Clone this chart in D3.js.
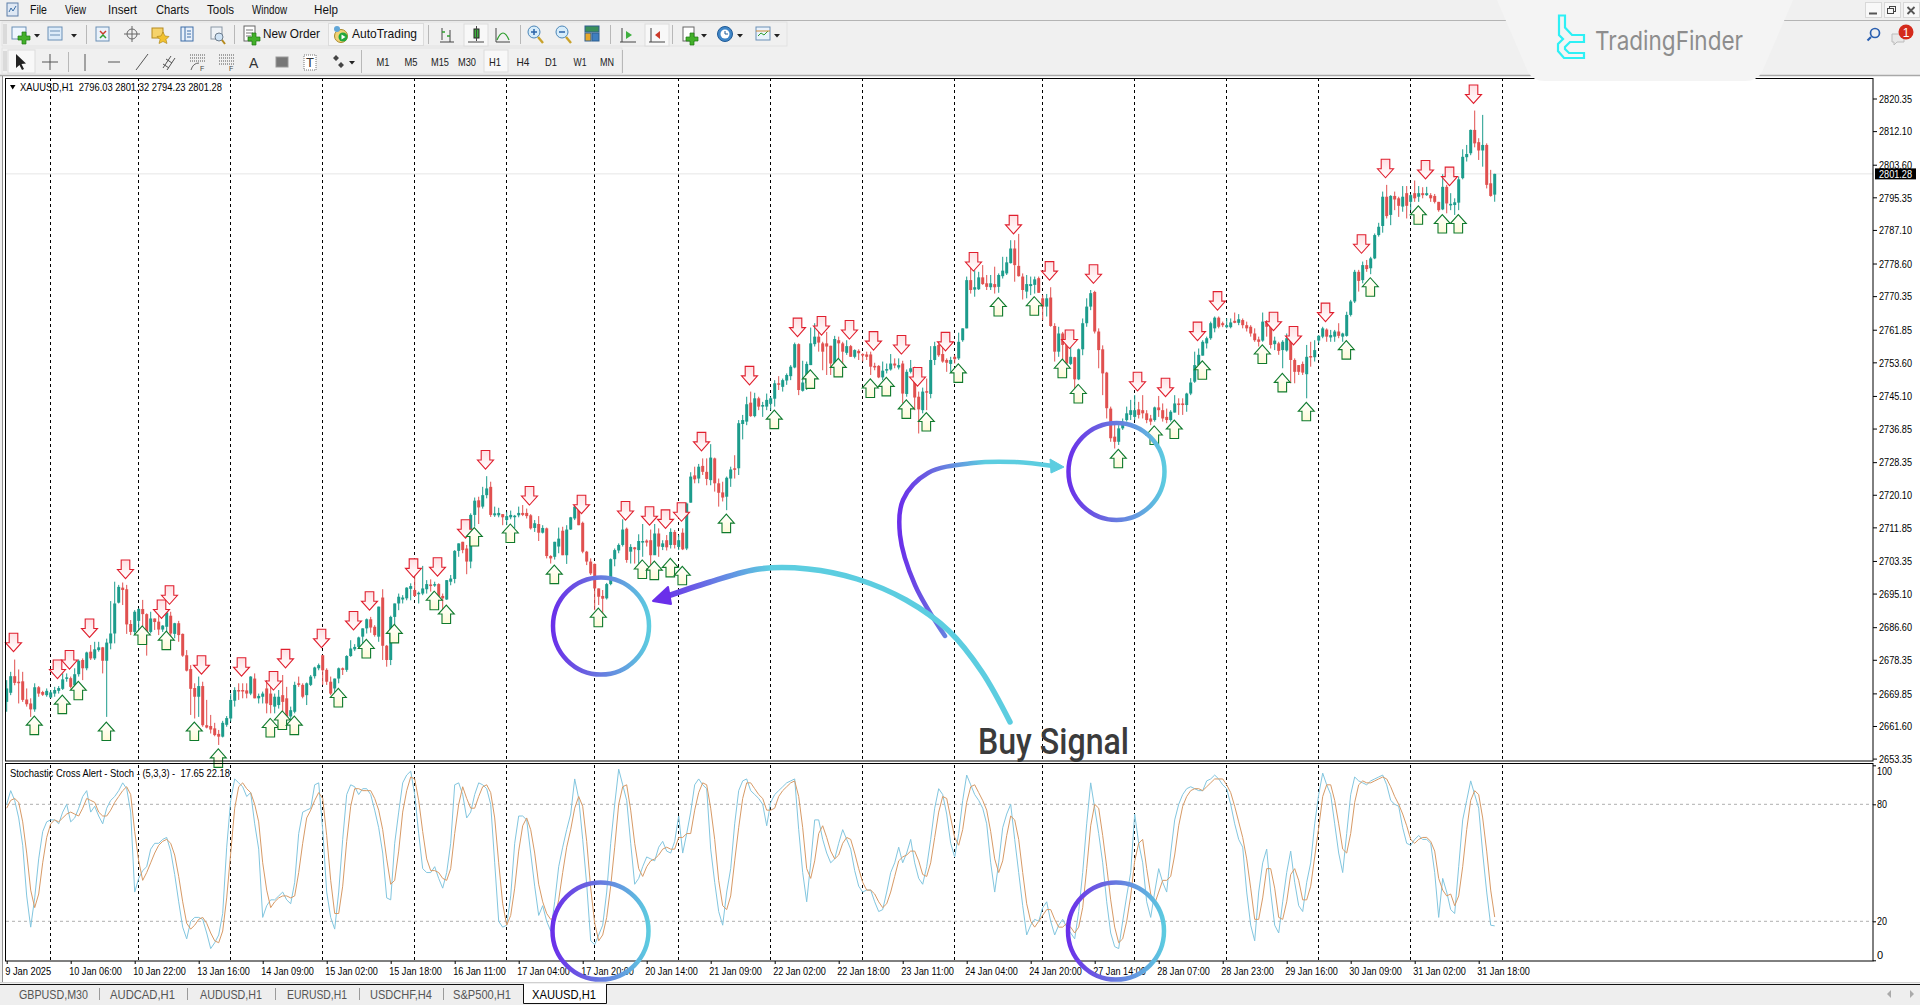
<!DOCTYPE html>
<html>
<head>
<meta charset="utf-8">
<title>XAUUSD,H1</title>
<script src="https://cdn.jsdelivr.net/npm/d3@7"></script>
<style>
html, body { margin: 0; padding: 0; background: #f0f0f0; overflow: hidden; }
svg { display: block; }
text { font-family: "Liberation Sans", sans-serif; }
</style>
</head>
<body>
<svg id="chart" width="1920" height="1005"></svg>
<script>
// candles
var opens = [
2667.7,2670.0,2674.2,2672.8,2672.9,2668.3,2667.3,2665.8,2671.4,2670.2,
2669.4,2668.8,2669.8,2670.5,2671.0,2673.6,2673.7,2671.9,2674.7,2678.3,
2676.2,2680.4,2678.7,2680.8,2681.5,2678.1,2682.5,2685.0,2692.8,2696.6,
2696.2,2687.4,2685.4,2688.2,2691.2,2689.9,2685.4,2688.8,2688.0,2686.0,
2686.7,2689.5,2684.9,2687.6,2684.9,2679.5,2676.0,2671.2,2669.0,2671.7,
2661.8,2661.6,2661.0,2659.6,2658.9,2661.9,2663.5,2668.0,2670.7,2670.7,
2670.6,2669.8,2673.6,2668.6,2669.0,2671.1,2669.8,2666.5,2666.9,2669.4,
2668.6,2664.0,2665.2,2672.4,2672.0,2669.4,2672.0,2674.2,2676.2,2679.5,
2675.8,2672.8,2671.1,2673.6,2676.2,2675.8,2679.3,2681.0,2681.6,2684.2,
2686.3,2688.6,2686.7,2684.2,2694.1,2681.9,2678.3,2689.2,2692.6,2693.6,
2693.9,2696.3,2696.0,2695.0,2695.1,2696.2,2697.4,2697.2,2697.5,2694.5,
2693.6,2698.1,2698.8,2705.9,2708.2,2706.5,2703.2,2715.0,2718.7,2717.1,
2720.0,2722.1,2714.9,2714.9,2715.2,2713.7,2714.4,2714.5,2714.9,2715.5,
2715.5,2714.9,2711.7,2712.7,2710.5,2711.6,2704.6,2704.4,2707.0,2711.0,
2704.8,2711.3,2714.1,2716.6,2713.0,2705.7,2703.2,2702.6,2696.4,2694.5,
2693.9,2697.5,2703.8,2706.0,2707.4,2711.5,2705.7,2706.8,2706.1,2708.0,
2708.5,2708.6,2704.8,2710.3,2706.9,2708.6,2707.4,2710.7,2706.9,2710.5,
2706.5,2718.1,2725.0,2724.2,2727.4,2725.9,2723.8,2729.3,2723.0,2720.7,
2719.6,2724.2,2726.8,2726.8,2738.0,2738.6,2743.4,2740.0,2744.5,2742.4,
2742.4,2743.1,2744.4,2748.3,2747.4,2749.0,2750.1,2752.3,2758.2,2746.4,
2748.3,2752.9,2758.2,2760.1,2758.4,2758.4,2757.8,2753.3,2759.2,2758.4,
2756.0,2757.7,2755.0,2756.5,2755.7,2755.6,2755.6,2752.7,2752.7,2749.8,
2751.5,2751.8,2753.3,2752.3,2753.3,2745.6,2751.2,2752.3,2744.9,2741.5,
2746.3,2745.6,2754.2,2758.0,2755.7,2754.2,2753.2,2755.0,2754.6,2759.2,
2762.2,2774.4,2772.0,2772.1,2775.1,2773.6,2772.6,2773.4,2772.7,2775.4,
2776.1,2778.7,2782.4,2778.0,2775.3,2771.5,2772.9,2773.2,2774.9,2769.8,
2767.7,2770.0,2762.8,2756.3,2760.9,2758.4,2753.2,2754.9,2749.3,2756.9,
2763.5,2767.7,2771.4,2761.4,2756.9,2751.0,2741.9,2734.8,2733.5,2736.9,
2739.0,2740.3,2739.8,2741.7,2741.5,2740.7,2739.4,2739.0,2742.2,2741.5,
2739.8,2739.0,2740.9,2743.2,2743.2,2742.8,2745.7,2748.7,2752.9,2755.3,
2758.4,2759.7,2762.2,2764.9,2763.5,2762.5,2762.5,2764.1,2763.6,2764.3,
2763.0,2762.6,2760.9,2759.4,2759.1,2763.9,2763.0,2758.2,2758.4,2756.7,
2756.6,2759.7,2754.2,2752.9,2753.2,2750.6,2755.2,2754.9,2759.1,2760.1,
2761.9,2759.9,2760.1,2761.4,2760.1,2760.3,2765.6,2769.0,2776.5,2774.4,
2778.2,2777.4,2779.9,2785.8,2788.1,2795.5,2790.9,2795.7,2795.1,2793.0,
2796.4,2794.2,2796.4,2795.5,2796.4,2795.9,2795.9,2795.7,2794.2,2792.3,
2798.0,2793.3,2793.4,2794.0,2800.2,2805.5,2806.5,2812.4,2809.3,2807.2,
2808.6,2798.9,2796.03
];
var highs = [
2673.2,2675.3,2678.4,2675.9,2675.3,2671.1,2668.6,2672.4,2671.7,2670.5,
2671.1,2670.7,2671.5,2671.7,2674.9,2674.9,2674.1,2676.2,2678.4,2678.7,
2680.4,2682.1,2682.9,2682.9,2681.6,2683.7,2693.2,2698.1,2697.3,2697.9,
2697.3,2688.4,2690.9,2691.4,2693.5,2690.1,2690.5,2688.8,2690.9,2687.1,
2690.9,2690.5,2687.7,2688.2,2685.0,2680.8,2677.0,2672.4,2674.1,2672.8,
2668.2,2664.4,2662.4,2660.6,2662.9,2664.1,2669.8,2671.4,2672.4,2672.4,
2672.4,2674.2,2674.9,2669.8,2670.3,2673.2,2671.5,2669.8,2670.7,2674.5,
2671.5,2666.5,2672.8,2674.1,2672.4,2672.6,2674.5,2676.6,2677.4,2679.5,
2676.2,2674.1,2673.6,2676.4,2676.4,2679.5,2683.3,2682.3,2684.2,2686.3,
2688.8,2689.2,2687.1,2691.8,2696.2,2682.1,2689.5,2692.6,2695.1,2694.7,
2696.7,2697.7,2699.8,2695.6,2702.1,2698.5,2698.7,2698.1,2697.7,2695.1,
2698.5,2699.8,2706.1,2707.8,2708.2,2707.4,2715.4,2719.4,2719.6,2722.1,
2724.8,2723.4,2717.1,2716.8,2715.2,2715.8,2716.1,2715.0,2717.1,2717.5,
2716.6,2715.2,2713.7,2714.7,2712.4,2711.8,2704.8,2708.2,2711.8,2712.0,
2712.4,2714.5,2717.5,2717.1,2713.3,2705.9,2704.0,2702.7,2696.4,2696.0,
2697.8,2704.0,2706.5,2707.8,2713.9,2711.8,2707.6,2706.9,2710.1,2712.7,
2708.8,2711.3,2712.7,2711.6,2708.6,2709.9,2711.6,2711.2,2709.9,2711.6,
2718.1,2725.8,2727.2,2727.9,2729.3,2729.3,2732.9,2729.5,2724.2,2723.4,
2724.7,2727.2,2730.1,2739.0,2740.3,2744.9,2746.2,2745.9,2744.9,2743.6,
2745.7,2744.9,2749.1,2750.1,2749.5,2750.8,2752.9,2758.6,2758.4,2754.0,
2753.8,2762.4,2763.5,2762.6,2758.8,2761.3,2757.8,2760.3,2760.1,2758.8,
2759.2,2758.0,2756.9,2756.9,2755.9,2756.3,2756.3,2753.5,2752.9,2753.8,
2753.3,2755.7,2754.6,2754.6,2754.0,2751.8,2754.2,2752.5,2746.2,2747.2,
2749.5,2757.7,2758.8,2758.4,2758.4,2754.6,2755.0,2755.4,2761.1,2762.2,
2775.3,2777.6,2776.9,2776.5,2778.2,2775.7,2775.7,2777.8,2776.1,2780.3,
2780.3,2784.5,2784.5,2786.1,2776.1,2775.7,2775.3,2775.3,2775.3,2770.6,
2770.9,2772.6,2763.5,2762.6,2761.3,2761.8,2757.6,2755.0,2757.1,2764.7,
2769.8,2771.9,2771.7,2762.2,2757.9,2751.2,2742.4,2738.2,2737.7,2739.4,
2742.4,2744.1,2745.3,2743.6,2745.3,2741.5,2740.3,2742.4,2745.1,2743.2,
2741.9,2741.5,2745.3,2744.5,2744.5,2745.9,2749.6,2756.3,2757.1,2759.2,
2760.1,2763.9,2765.2,2765.2,2763.9,2764.7,2764.7,2766.2,2765.8,2764.7,
2763.9,2763.0,2762.2,2760.1,2766.2,2764.3,2764.3,2760.1,2758.8,2759.2,
2760.9,2760.1,2754.6,2752.9,2753.8,2758.0,2758.8,2759.2,2760.5,2762.6,
2762.2,2761.8,2761.8,2763.5,2761.1,2766.4,2769.4,2777.0,2777.0,2779.1,
2779.5,2780.3,2786.2,2788.9,2796.8,2798.5,2795.9,2796.8,2795.5,2798.2,
2798.2,2796.2,2799.6,2798.2,2797.9,2798.0,2796.4,2796.2,2794.2,2801.2,
2798.5,2796.4,2795.1,2800.6,2807.5,2808.6,2812.5,2817.3,2810.3,2816.2,
2809.0,2802.3,2801.32
];
var lows = [
2665.2,2669.4,2671.9,2667.3,2667.7,2666.5,2663.9,2665.2,2669.0,2669.2,
2669.0,2668.6,2669.0,2669.8,2670.7,2672.8,2671.1,2671.4,2674.1,2673.2,
2675.7,2678.3,2678.3,2680.4,2674.9,2663.9,2681.0,2682.5,2692.6,2692.2,
2684.9,2684.6,2684.6,2685.0,2686.7,2679.4,2685.0,2685.9,2684.6,2685.4,
2684.6,2684.2,2683.8,2682.9,2679.1,2675.4,2664.4,2663.5,2663.9,2661.4,
2661.0,2659.7,2659.0,2656.8,2658.7,2661.4,2662.7,2666.5,2668.2,2668.6,
2668.6,2669.4,2668.6,2667.3,2667.3,2664.8,2664.8,2664.8,2666.0,2662.3,
2663.1,2663.1,2664.8,2671.5,2668.6,2666.9,2671.7,2673.6,2675.7,2672.0,
2672.0,2669.4,2669.8,2672.4,2674.5,2675.3,2679.1,2680.6,2681.2,2682.5,
2685.0,2685.2,2684.2,2682.9,2678.3,2676.6,2677.0,2687.1,2690.9,2692.6,
2693.4,2693.4,2694.3,2692.6,2694.7,2695.1,2695.6,2696.8,2693.5,2690.9,
2693.5,2697.2,2697.7,2704.4,2705.3,2700.0,2701.5,2712.0,2712.7,2716.6,
2719.2,2714.5,2714.5,2714.4,2712.4,2712.4,2713.9,2711.6,2714.4,2714.7,
2714.1,2711.3,2710.7,2708.4,2710.3,2704.0,2702.7,2703.7,2705.3,2704.8,
2702.6,2711.2,2713.7,2712.4,2705.3,2702.3,2699.8,2690.9,2692.2,2689.7,
2693.6,2697.2,2702.0,2705.3,2707.0,2702.9,2702.7,2702.7,2702.7,2704.4,
2707.0,2702.3,2705.3,2704.4,2706.1,2706.0,2706.5,2706.5,2706.1,2706.1,
2706.1,2718.1,2723.0,2723.0,2725.1,2722.5,2722.5,2720.9,2717.1,2718.4,
2716.2,2722.1,2724.2,2725.1,2734.1,2737.7,2739.8,2739.7,2741.5,2739.8,
2741.5,2741.5,2742.4,2746.6,2746.2,2747.9,2749.1,2752.1,2745.3,2746.2,
2746.6,2752.9,2757.6,2756.3,2751.6,2750.4,2750.4,2752.9,2754.6,2752.9,
2755.5,2755.0,2754.6,2754.2,2753.8,2754.2,2750.4,2751.6,2749.6,2749.1,
2750.8,2751.5,2752.1,2751.8,2743.2,2744.9,2750.8,2741.5,2735.6,2740.7,
2741.5,2744.5,2752.9,2755.0,2753.5,2751.2,2751.2,2753.3,2754.2,2758.8,
2762.2,2771.0,2770.2,2771.9,2773.2,2771.9,2771.9,2771.0,2771.2,2774.8,
2775.7,2778.6,2774.0,2775.3,2769.5,2769.8,2770.6,2771.0,2771.2,2764.3,
2765.2,2762.6,2753.8,2755.0,2753.3,2752.5,2752.9,2746.6,2749.1,2755.4,
2762.6,2766.8,2760.9,2752.1,2745.3,2739.4,2733.5,2731.8,2732.7,2736.5,
2738.6,2739.0,2739.0,2739.4,2739.4,2738.2,2737.7,2738.6,2739.8,2738.6,
2738.2,2738.6,2740.9,2740.3,2740.3,2741.1,2745.3,2748.4,2752.9,2755.3,
2757.1,2759.3,2761.2,2762.2,2762.5,2762.2,2762.2,2763.5,2763.0,2762.2,
2761.4,2760.1,2758.8,2757.6,2758.8,2760.1,2757.1,2756.7,2755.5,2752.1,
2756.3,2748.3,2748.3,2750.4,2750.4,2744.5,2752.5,2753.8,2758.4,2759.7,
2758.8,2758.8,2758.8,2759.7,2758.8,2760.1,2765.2,2768.6,2771.5,2773.6,
2776.5,2775.9,2779.7,2785.4,2786.4,2790.0,2788.3,2792.1,2790.4,2791.7,
2790.0,2792.1,2794.2,2794.2,2795.1,2795.7,2794.2,2793.8,2791.7,2792.1,
2791.3,2792.1,2790.9,2792.1,2799.9,2804.4,2806.0,2808.0,2804.8,2803.1,
2797.6,2795.5,2794.23
];
var closes = [
2671.1,2674.2,2672.5,2672.6,2668.2,2667.1,2665.8,2671.4,2669.8,2669.5,
2670.5,2670.1,2670.7,2671.2,2673.4,2673.9,2671.5,2674.7,2678.1,2676.2,
2680.2,2678.7,2681.0,2681.5,2678.1,2682.7,2685.0,2692.6,2696.8,2696.0,
2687.3,2685.4,2690.5,2691.2,2689.9,2685.4,2688.8,2687.9,2686.0,2687.0,
2690.3,2685.0,2687.6,2684.6,2679.4,2675.6,2671.0,2669.0,2671.7,2661.8,
2661.2,2660.7,2659.3,2658.9,2662.4,2663.6,2668.2,2670.7,2670.5,2670.5,
2669.8,2674.1,2668.6,2669.2,2669.8,2667.3,2666.9,2669.0,2669.0,2667.7,
2664.0,2665.6,2672.0,2672.0,2669.0,2672.4,2674.1,2676.4,2677.0,2675.7,
2672.8,2669.8,2673.6,2676.2,2675.8,2679.3,2681.2,2681.6,2684.0,2686.3,
2688.6,2686.5,2684.6,2691.8,2681.9,2678.3,2689.2,2692.6,2694.3,2694.1,
2696.6,2697.0,2694.5,2695.3,2696.4,2697.5,2697.0,2697.5,2694.3,2693.9,
2698.5,2698.9,2705.9,2707.8,2706.1,2703.2,2715.0,2718.6,2716.9,2720.0,
2721.7,2715.0,2715.4,2715.5,2714.4,2714.7,2715.0,2714.8,2715.5,2715.0,
2714.7,2711.6,2712.9,2710.5,2711.7,2704.6,2704.0,2708.2,2709.0,2704.8,
2711.3,2714.4,2717.1,2712.4,2705.7,2703.2,2700.2,2696.4,2694.3,2693.8,
2697.5,2703.8,2706.1,2707.4,2711.3,2703.6,2706.9,2706.3,2708.4,2708.4,
2708.0,2704.8,2710.3,2707.0,2707.8,2706.8,2710.7,2707.4,2708.6,2706.3,
2717.9,2724.7,2724.0,2727.2,2725.9,2724.1,2729.5,2723.0,2720.6,2719.4,
2724.4,2726.5,2726.4,2738.2,2739.0,2743.0,2740.0,2744.5,2742.4,2742.8,
2744.1,2744.5,2748.3,2748.0,2749.1,2750.4,2752.5,2758.2,2746.6,2748.5,
2753.2,2758.4,2760.1,2758.6,2756.3,2757.6,2753.3,2759.5,2758.4,2756.3,
2757.7,2755.0,2756.7,2755.9,2755.4,2755.0,2752.5,2752.3,2749.8,2751.5,
2751.9,2753.3,2752.8,2752.9,2745.7,2751.2,2752.1,2744.7,2741.7,2746.2,
2746.1,2754.2,2757.7,2755.4,2753.8,2753.5,2754.2,2754.4,2758.8,2762.2,
2774.4,2771.9,2772.6,2775.1,2773.4,2772.7,2773.6,2772.6,2775.7,2776.8,
2778.9,2782.4,2778.2,2775.4,2771.9,2773.4,2773.4,2774.6,2771.2,2767.7,
2769.8,2762.8,2756.3,2760.9,2758.0,2753.3,2755.0,2749.3,2756.9,2763.5,
2767.7,2771.1,2761.4,2756.7,2750.8,2742.0,2734.4,2733.5,2736.9,2738.6,
2740.7,2741.5,2741.5,2740.3,2740.7,2739.0,2738.6,2742.2,2741.5,2739.4,
2739.0,2741.1,2743.2,2742.8,2742.8,2745.7,2748.5,2752.9,2755.5,2758.8,
2759.7,2763.5,2764.9,2762.6,2763.0,2763.0,2763.7,2763.6,2764.5,2763.0,
2762.2,2760.9,2759.2,2758.8,2763.9,2762.6,2758.0,2759.1,2756.5,2758.8,
2759.7,2754.2,2751.2,2751.2,2751.0,2755.0,2754.9,2756.7,2760.3,2762.2,
2760.1,2760.5,2761.4,2760.3,2760.9,2765.6,2769.0,2776.5,2774.2,2778.2,
2777.2,2779.9,2785.8,2787.9,2795.5,2790.6,2795.7,2794.8,2793.2,2795.5,
2793.2,2795.9,2795.1,2796.4,2795.9,2796.4,2795.1,2794.2,2792.1,2798.0,
2793.8,2793.7,2794.1,2799.9,2805.6,2806.3,2812.4,2809.0,2807.2,2808.6,
2798.5,2795.7,2801.28
];

// stochastic %K and %D
var stochMain = [
80,87,82,73,59,33,17,32,52,66,71,72,72,70,76,80,71,73,78,84,
87,76,79,74,70,78,82,84,87,91,88,76,35,42,46,48,57,60,60,62,
63,56,44,30,17,11,20,22,22,21,14,6,9,13,24,58,82,93,91,89,
84,86,70,57,22,28,31,31,33,35,31,29,40,65,76,77,78,90,91,67,
35,22,16,35,62,85,90,89,85,88,88,85,77,68,55,32,31,60,76,91,
95,97,85,65,47,45,45,48,42,37,45,60,90,91,85,73,76,85,91,90,
88,80,50,20,17,18,33,60,74,74,72,55,38,23,28,20,15,30,48,58,
67,75,93,83,62,39,10,8,13,18,35,60,80,98,90,82,60,39,42,48,
53,52,51,58,61,56,55,61,74,55,65,76,90,93,90,88,57,40,25,18,
35,47,70,87,92,93,87,85,83,80,69,81,85,87,89,91,92,93,67,45,
30,50,72,72,62,55,50,52,60,67,62,57,46,38,35,36,36,30,25,26,
35,45,50,58,50,55,62,50,42,39,48,62,78,88,85,75,60,53,65,82,
95,90,85,82,78,70,50,35,50,68,75,80,62,45,28,13,18,21,20,27,
30,20,13,18,21,17,14,11,25,45,70,91,78,65,50,30,14,7,6,20,
33,45,75,60,50,30,22,35,47,40,35,55,72,80,85,88,89,88,87,87,
92,93,95,93,90,88,80,70,62,58,35,18,10,35,50,57,35,18,14,30,
45,56,40,28,25,40,50,70,85,96,90,85,70,55,45,65,85,94,92,91,
90,92,93,94,95,90,82,80,79,68,60,59,62,64,62,62,60,45,22,42,
35,26,24,48,72,82,92,85,78,55,35,18,17.65
];
var stochSignal = [
78,82,83,81,71,55,36,27,34,50,63,70,72,71,73,75,76,75,74,78,
83,82,81,76,74,74,77,81,84,87,89,85,66,51,41,45,50,55,59,61,
62,60,54,43,30,19,16,18,21,22,19,14,10,9,15,32,55,78,89,91,
88,86,80,71,50,36,27,30,32,33,33,32,33,45,60,73,77,82,86,83,
64,41,24,24,38,61,79,88,88,87,87,87,83,77,67,52,39,41,56,76,
87,94,93,82,66,52,46,46,45,42,41,47,65,80,89,83,78,78,84,89,
90,86,73,50,29,18,23,37,56,69,73,67,55,39,30,24,21,22,31,45,
58,67,78,84,79,61,37,19,10,13,22,38,58,80,89,90,77,60,47,43,
48,51,52,54,57,58,57,57,63,63,65,65,77,86,91,90,78,62,41,28,
26,33,51,68,83,91,91,88,85,83,77,77,78,84,87,89,91,92,84,68,
47,42,51,65,69,63,56,52,54,60,63,62,55,47,40,36,36,34,30,27,
29,35,43,51,53,54,56,56,51,44,43,50,63,76,84,83,73,63,59,67,
81,89,90,86,82,77,66,52,45,51,64,74,72,62,45,29,20,17,20,23,
26,26,21,17,17,19,17,14,17,27,47,69,80,78,64,48,31,17,9,11,
20,33,51,60,62,47,34,29,35,41,41,43,54,69,79,84,87,88,88,87,
89,91,93,93,93,90,86,79,71,63,52,37,21,21,32,47,47,37,22,21,
30,44,47,41,31,31,38,53,68,84,90,90,82,70,57,55,65,81,90,92,
91,91,92,93,94,93,89,84,80,75,69,62,60,62,63,63,61,56,42,36,
33,34,28,33,48,67,82,87,85,73,56,36,22.18
];

// signal arrows: bar index and price at the arrow tip
var downBars = [2,13,16,21,30,39,41,49,59,67,70,79,87,91,102,108,115,120,131,144,155,161,165,169,174,186,198,204,211,217,224,228,235,242,252,261,266,272,283,290,298,303,317,322,330,339,345,355,361,367];
var downPrices = [2680.4,2673.6,2676.0,2684.0,2698.9,2688.8,2692.4,2674.7,2674.2,2670.7,2676.3,2681.4,2685.9,2690.9,2699.2,2699.5,2709.1,2726.6,2717.5,2715.3,2713.7,2712.4,2711.6,2713.4,2731.2,2747.9,2760.1,2760.5,2759.5,2756.7,2755.7,2747.6,2756.5,2776.7,2786.1,2774.4,2757.1,2773.6,2746.4,2744.9,2759.1,2766.8,2761.6,2758.0,2763.9,2781.2,2800.3,2800.0,2798.3,2819.1];
var upBars = [7,14,18,25,34,40,47,53,66,69,72,83,90,97,107,110,117,126,137,148,159,162,166,169,180,192,201,208,216,220,225,230,238,248,257,264,268,278,287,292,299,314,319,325,335,341,353,359,363];
var upPrices = [2664.1,2669.4,2672.9,2662.6,2686.9,2685.6,2662.6,2655.8,2663.5,2665.4,2664.1,2671.1,2683.5,2687.3,2695.7,2692.2,2711.8,2712.7,2702.3,2691.4,2703.6,2703.3,2704.0,2702.0,2715.2,2741.5,2751.7,2754.6,2749.4,2749.8,2744.1,2740.9,2753.2,2770.0,2770.2,2754.4,2748.0,2731.6,2737.5,2739.0,2754.0,2758.0,2750.8,2743.5,2759.1,2775.0,2793.2,2791.0,2791.0];

// axes
var priceTicks = [2820.35,2812.10,2803.60,2795.35,2787.10,2778.60,2770.35,2761.85,2753.60,2745.10,2736.85,2728.35,2720.10,2711.85,2703.35,2695.10,2686.60,2678.35,2669.85,2661.60,2653.35];
var stochTicks = [100,80,20,0];
var timeLabels = ["9 Jan 2025","10 Jan 06:00","10 Jan 22:00","13 Jan 16:00","14 Jan 09:00","15 Jan 02:00","15 Jan 18:00","16 Jan 11:00","17 Jan 04:00","17 Jan 20:00","20 Jan 14:00","21 Jan 09:00","22 Jan 02:00","22 Jan 18:00","23 Jan 11:00","24 Jan 04:00","24 Jan 20:00","27 Jan 14:00","28 Jan 07:00","28 Jan 23:00","29 Jan 16:00","30 Jan 09:00","31 Jan 02:00","31 Jan 18:00"];
var timeBars = timeLabels.map(function (d, i) { return i * 16; });
var separatorBars = [11,33,56,79,102,125,147,168,191,214,237,259,282,305,328,351,374];
var lastPrice = 2801.28;

var tabNames = ["GBPUSD,M30","AUDCAD,H1","AUDUSD,H1","EURUSD,H1","USDCHF,H4","S&P500,H1","XAUUSD,H1"];
var menuNames = ["File","View","Insert","Charts","Tools","Window","Help"];
var periodNames = ["M1","M5","M15","M30","H1","H4","D1","W1","MN"];

var svg = d3.select("#chart");
var defs = svg.append("defs");

var x = d3.scaleLinear().domain([0, 372]).range([6.7, 1494.7]);
var y = d3.scaleLinear().domain([2653.35, 2820.35]).range([758.6, 98.5]);
var yStoch = d3.scaleLinear().domain([0, 100]).range([960.3, 765.3]);

// squeeze a text into the narrow width the terminal font has
function fit(sel, w) {
    return sel.attr("textLength", w).attr("lengthAdjust", "spacingAndGlyphs");
}

// gradients for the hand drawn circles and arrows
function gradient(id, x1, x2, stops) {
    var g = defs.append("linearGradient").attr("id", id)
        .attr("gradientUnits", "userSpaceOnUse")
        .attr("x1", x1).attr("x2", x2).attr("y1", 0).attr("y2", 0);
    stops.forEach(function (s) {
        g.append("stop").attr("offset", s[0]).attr("stop-color", s[1]);
    });
}
gradient("circleA", 552, 650, [[0, "#6a2fea"], [0.35, "#6a62e0"], [1, "#5ccde0"]]);
gradient("circleB", 1067, 1166, [[0, "#6a2fea"], [0.35, "#6a62e0"], [1, "#5ccde0"]]);
gradient("curveA", 655, 770, [[0, "#6a2fea"], [0.3, "#6a55e6"], [1, "#5ccde0"]]);
gradient("curveB", 900, 985, [[0, "#6a2fea"], [0.35, "#6a62e0"], [1, "#5ccde0"]]);

var downFill = defs.append("linearGradient").attr("id", "downFill").attr("x1", 0).attr("x2", 0).attr("y1", 0).attr("y2", 1);
downFill.append("stop").attr("offset", 0).attr("stop-color", "#ffe0e3");
downFill.append("stop").attr("offset", 1).attr("stop-color", "#ffffff");
var upFill = defs.append("linearGradient").attr("id", "upFill").attr("x1", 0).attr("x2", 0).attr("y1", 0).attr("y2", 1);
upFill.append("stop").attr("offset", 0).attr("stop-color", "#ffffff");
upFill.append("stop").attr("offset", 1).attr("stop-color", "#fffbd8");

// window background and panels
svg.append("rect").attr("width", 1920).attr("height", 1005).attr("fill", "#f0f0f0");
svg.append("rect").attr("x", 2).attr("y", 76).attr("width", 1918).attr("height", 906).attr("fill", "#ffffff");
svg.append("line").attr("x1", 0).attr("x2", 1920).attr("y1", 75.5).attr("y2", 75.5).attr("stroke", "#a8a8a8").attr("stroke-width", 1.5);
svg.append("line").attr("x1", 2.5).attr("x2", 2.5).attr("y1", 76).attr("y2", 982).attr("stroke", "#909090");

// period separators
var sepGroup = svg.append("g");
sepGroup.selectAll("line.main").data(separatorBars).enter().append("line").attr("class", "main")
    .attr("x1", function (d) { return Math.floor(x(d)) + 0.5; })
    .attr("x2", function (d) { return Math.floor(x(d)) + 0.5; })
    .attr("y1", 78).attr("y2", 761)
    .attr("stroke", "#000").attr("stroke-dasharray", "3,3");
sepGroup.selectAll("line.sub").data(separatorBars).enter().append("line").attr("class", "sub")
    .attr("x1", function (d) { return Math.floor(x(d)) + 0.5; })
    .attr("x2", function (d) { return Math.floor(x(d)) + 0.5; })
    .attr("y1", 765).attr("y2", 961)
    .attr("stroke", "#000").attr("stroke-dasharray", "3,3");

// last price line
svg.append("line").attr("x1", 6).attr("x2", 1873).attr("y1", y(lastPrice)).attr("y2", y(lastPrice)).attr("stroke", "#e6e6e6");

// candles
var bars = d3.range(opens.length);
var candles = svg.append("g");
function candleColor(i) { return closes[i] < opens[i] ? "#e0504f" : "#1c9c8c"; }
candles.selectAll("line").data(bars).enter().append("line")
    .attr("x1", function (i) { return x(i); }).attr("x2", function (i) { return x(i); })
    .attr("y1", function (i) { return y(highs[i]); }).attr("y2", function (i) { return y(lows[i]); })
    .attr("stroke", candleColor);
candles.selectAll("rect").data(bars).enter().append("rect")
    .attr("x", function (i) { return x(i) - 1.5; }).attr("width", 3)
    .attr("y", function (i) { return y(Math.max(opens[i], closes[i])); })
    .attr("height", function (i) { return Math.max(1.5, Math.abs(y(opens[i]) - y(closes[i]))); })
    .attr("fill", candleColor);

// signal arrows
var downShape = "M0,0L-8,-9L-4.3,-9L-4.3,-18.5L4.3,-18.5L4.3,-9L8,-9Z";
var upShape = "M0,0L-8,9L-4.3,9L-4.3,18.5L4.3,18.5L4.3,9L8,9Z";
svg.append("g").selectAll("path").data(downBars).enter().append("path")
    .attr("d", downShape)
    .attr("transform", function (d, i) { return "translate(" + (x(d) - 1.2) + "," + y(downPrices[i]) + ")"; })
    .attr("fill", "url(#downFill)").attr("stroke", "#e01f2e").attr("stroke-width", 1.1);
svg.append("g").selectAll("path").data(upBars).enter().append("path")
    .attr("d", upShape)
    .attr("transform", function (d, i) { return "translate(" + (x(d) - 0.4) + "," + y(upPrices[i]) + ")"; })
    .attr("fill", "url(#upFill)").attr("stroke", "#0f7a2c").attr("stroke-width", 1.1);

// stochastic window
[80, 20].forEach(function (level) {
    svg.append("line").attr("x1", 6).attr("x2", 1873)
        .attr("y1", yStoch(level)).attr("y2", yStoch(level))
        .attr("stroke", "#b0b0b0").attr("stroke-dasharray", "3,3");
});
var stochLine = d3.line().x(function (d, i) { return x(i); }).y(function (d) { return yStoch(d); });
svg.append("path").datum(stochMain).attr("d", stochLine).attr("fill", "none").attr("stroke", "#82c6df").attr("stroke-width", 1);
svg.append("path").datum(stochSignal).attr("d", stochLine).attr("fill", "none").attr("stroke", "#d79a66").attr("stroke-width", 1);

// frames
svg.append("rect").attr("x", 5.5).attr("y", 78.5).attr("width", 1867.5).attr("height", 682.5).attr("fill", "none").attr("stroke", "#000");
svg.append("rect").attr("x", 5.5).attr("y", 763.5).attr("width", 1867.5).attr("height", 197.5).attr("fill", "none").attr("stroke", "#000");

// axes
var priceAxis = d3.axisRight(y).tickValues(priceTicks).tickFormat(d3.format(".2f")).tickSize(4).tickPadding(2);
var priceG = svg.append("g").attr("transform", "translate(1873,0)").call(priceAxis);
priceG.select(".domain").remove();
fit(priceG.selectAll("text"), 33).attr("font-size", 11.5).attr("fill", "#000").style("font-family", '"Liberation Sans", sans-serif');

var stochAxis = d3.axisRight(yStoch).tickValues(stochTicks).tickSize(3).tickPadding(1);
var stochG = svg.append("g").attr("transform", "translate(1873,0)").call(stochAxis);
stochG.select(".domain").remove();
stochG.selectAll("text").attr("font-size", 11).attr("fill", "#000").style("font-family", '"Liberation Sans", sans-serif')
    .attr("dy", function (d) { return d === 100 ? "0.85em" : d === 0 ? "-0.2em" : "0.32em"; });
fit(stochG.selectAll("text").filter(function (d) { return d === 100; }), 15);
fit(stochG.selectAll("text").filter(function (d) { return d === 80 || d === 20; }), 10);

var timeAxis = d3.axisBottom(x).tickValues(timeBars).tickFormat(function (d, i) { return timeLabels[i]; }).tickSize(3).tickPadding(3);
var timeG = svg.append("g").attr("transform", "translate(0,961)").call(timeAxis);
timeG.select(".domain").remove();
timeG.selectAll("text").attr("font-size", 11.5).attr("fill", "#000").attr("text-anchor", "start").attr("dx", -2)
    .style("font-family", '"Liberation Sans", sans-serif')
    .attr("textLength", function (d, i) { return i === 0 ? 46 : 52.7; })
    .attr("lengthAdjust", "spacingAndGlyphs");

// last price tag
svg.append("rect").attr("x", 1875).attr("y", y(lastPrice) - 5.5).attr("width", 41).attr("height", 11).attr("fill", "#000");
fit(svg.append("text").attr("x", 1879).attr("y", y(lastPrice) + 4).attr("font-size", 11.5).attr("fill", "#fff").text(d3.format(".2f")(lastPrice)), 33);

// window titles
svg.append("path").attr("d", "M10,85L15.5,85L12.7,89.5Z").attr("fill", "#000");
fit(svg.append("text").attr("x", 20).attr("y", 91).attr("font-size", 11.5).attr("fill", "#000")
    .attr("xml:space", "preserve").text("XAUUSD,H1  2796.03 2801.32 2794.23 2801.28"), 202);
fit(svg.append("text").attr("x", 10).attr("y", 777).attr("font-size", 11.5).attr("fill", "#000")
    .attr("xml:space", "preserve").text("Stochastic Cross Alert - Stoch - (5,3,3) -  17.65 22.18"), 220);

// hand drawn annotation
function circle(cx, cy, grad) {
    svg.append("ellipse").attr("cx", cx).attr("cy", cy).attr("rx", 48).attr("ry", 48.5)
        .attr("fill", "none").attr("stroke", "url(#" + grad + ")").attr("stroke-width", 4.5);
}
circle(601, 626, "circleA");
circle(1116.5, 471.5, "circleB");
circle(600.5, 931, "circleA");
circle(1116, 931, "circleB");

var curve = d3.line().curve(d3.curveCatmullRom.alpha(0.5));
svg.append("path").attr("d", curve([[945, 636], [915, 585], [900, 535], [903, 500], [928, 473], [973, 463], [1015, 462], [1053, 466]]))
    .attr("fill", "none").attr("stroke", "url(#curveB)").attr("stroke-width", 4.5).attr("stroke-linecap", "round");
svg.append("path").attr("d", "M1064,467L1050,459L1051,473Z").attr("fill", "#5ccde0").attr("stroke", "#5ccde0").attr("stroke-linejoin", "round");
svg.append("path").attr("d", curve([[1010, 722], [982, 672], [949, 631], [906, 600], [857, 579], [808, 569], [759, 569], [710, 582], [665, 597]]))
    .attr("fill", "none").attr("stroke", "url(#curveA)").attr("stroke-width", 5.5).attr("stroke-linecap", "round");
svg.append("path").attr("d", "M653,601L668,587L671,604Z").attr("fill", "#6a2fea").attr("stroke", "#6a2fea").attr("stroke-linejoin", "round").attr("stroke-width", 2);

fit(svg.append("text").attr("x", 978).attr("y", 754).attr("font-size", 36).attr("font-weight", 500)
    .style("font-family", "Roboto, sans-serif").attr("fill", "#3b3b3b").text("Buy Signal"), 151);

// menu bar
var menuX = [30, 65, 108, 156, 207, 252, 314];
var menuW = [17, 21, 29, 33, 27, 35, 24];
svg.append("line").attr("x1", 0).attr("x2", 1920).attr("y1", 20.5).attr("y2", 20.5).attr("stroke", "#b4b4b4");
svg.selectAll("text.menu").data(menuNames).enter().append("text").attr("class", "menu")
    .attr("x", function (d, i) { return menuX[i]; }).attr("y", 14)
    .attr("font-size", 12.5).attr("fill", "#111")
    .attr("textLength", function (d, i) { return menuW[i]; }).attr("lengthAdjust", "spacingAndGlyphs")
    .text(function (d) { return d; });
svg.append("rect").attr("x", 7).attr("y", 3).attr("width", 11).attr("height", 13).attr("fill", "#dfe8f4").attr("stroke", "#5f7fa8");
svg.append("path").attr("d", "M9,12L11,8L13,11L16,6").attr("fill", "none").attr("stroke", "#3b6ea5");

// toolbar helpers
function sep(px, top, bottom) {
    svg.append("line").attr("x1", px + 0.5).attr("x2", px + 0.5).attr("y1", top).attr("y2", bottom).attr("stroke", "#b8b8b8");
}
function box(px, py, w, h, fill, stroke) {
    return svg.append("rect").attr("x", px).attr("y", py).attr("width", w).attr("height", h).attr("fill", fill).attr("stroke", stroke);
}
function stroke(d, color, w) {
    return svg.append("path").attr("d", d).attr("fill", "none").attr("stroke", color).attr("stroke-width", w || 1);
}
function caret(px, py) {
    svg.append("path").attr("d", "M" + px + "," + py + "l6,0l-3,3.5z").attr("fill", "#222");
}
function plus(px, py) {
    svg.append("path").attr("d", "M" + (px - 2) + "," + (py - 6) + "h4v4h4v4h-4v4h-4v-4h-4v-4h4z").attr("fill", "#43b02a").attr("stroke", "#1e7a12").attr("stroke-width", 0.7);
}

// toolbar row one
box(2, 22, 785, 24, "#f0f0f0", "#e2e2e2");
box(2, 48, 620, 26, "#f0f0f0", "#e2e2e2");
[6, 8].forEach(function (n) { stroke("M" + (n - 2) + ",24V44", "#c4c4c4"); stroke("M" + (n - 2) + ",51V71", "#c4c4c4"); });
box(12, 27, 14, 12, "#eef6ff", "#6b8fb5"); plus(24, 38); caret(34, 34);
box(48, 27, 14, 13, "#dcebf9", "#6b8fb5"); stroke("M50,31h10M50,35h10", "#6b8fb5"); caret(71, 34);
sep(86, 25, 44);
box(96, 27, 13, 14, "#eaf2fb", "#6b8fb5"); stroke("M100,31l3,3l3,-3", "#cc3a2a", 1.5); stroke("M100,38l3,-3l3,3", "#2f9e2f", 1.5);
svg.append("circle").attr("cx", 132).attr("cy", 34).attr("r", 5).attr("fill", "none").attr("stroke", "#666"); stroke("M132,26V42M124,34H140", "#666");
box(152, 28, 11, 10, "#f6d36b", "#b58a1e"); svg.append("path").attr("d", "M163,32l2,4l4,.5l-3,3l1,4l-4,-2l-4,2l1,-4l-3,-3l4,-.5z").attr("fill", "#f2c230").attr("stroke", "#a87f10").attr("stroke-width", 0.6);
box(181, 27, 12, 14, "#e8f0fa", "#3e6ea8"); stroke("M185,27V41M187,31h4M187,34h4M187,37h4", "#3e6ea8");
box(211, 27, 11, 12, "#eef2f6", "#8a97a5"); svg.append("circle").attr("cx", 219).attr("cy", 37).attr("r", 4).attr("fill", "#cfe3f5").attr("stroke", "#6c7c8c"); stroke("M222,40l3,4", "#b58a1e", 2);
sep(234, 25, 44);
box(244, 26, 11, 15, "#ffffff", "#666"); stroke("M246,30h7M246,33h7M246,36h5", "#777"); plus(254, 39);
fit(svg.append("text").attr("x", 263).attr("y", 38).attr("font-size", 13).attr("fill", "#111").text("New Order"), 57);
box(328.5, 23.5, 95, 22, "#f6f6f6", "#dcdcdc");
svg.append("circle").attr("cx", 341).attr("cy", 36).attr("r", 6.5).attr("fill", "#f1d277").attr("stroke", "#a98a2a");
svg.append("circle").attr("cx", 343).attr("cy", 37).attr("r", 4.5).attr("fill", "#21a83b");
svg.append("path").attr("d", "M341.5,34.5l4,2.5l-4,2.5z").attr("fill", "#fff");
svg.append("circle").attr("cx", 337).attr("cy", 29).attr("r", 3).attr("fill", "#62a7d8");
fit(svg.append("text").attr("x", 352).attr("y", 38).attr("font-size", 13).attr("fill", "#111").text("AutoTrading"), 65);
sep(428, 25, 44);
stroke("M442,28V40M450,30V42M440,42H454M454,42", "#444"); stroke("M442,32h3M447,36h3", "#2e9e2e", 1.5);
box(464, 24, 24, 22, "#f8f8f8", "#dcdcdc");
box(474, 29, 5, 9, "#3fb03f", "#222"); stroke("M476.5,26V41M468,42H484", "#444");
stroke("M496,28V42H510", "#444"); stroke("M497,40Q503,26 509,40", "#2e9e2e", 1.2);
sep(520, 25, 44);
[535, 563].forEach(function (cx, i) {
    svg.append("circle").attr("cx", cx - 1).attr("cy", 32).attr("r", 6).attr("fill", "#d6ecfa").attr("stroke", "#4b86b8");
    stroke("M" + (cx + 3) + ",37l5,6", "#c9a22c", 2.4);
    stroke(i === 0 ? "M" + (cx - 4) + ",32h6M" + (cx - 1) + ",29v6" : "M" + (cx - 4) + ",32h6", "#2a63a8", 1.5);
});
box(585, 26, 14, 6, "#3a8f5a", "#2f5f8f"); box(585, 33, 6, 8, "#e6a72b", "#2f5f8f"); box(592, 33, 7, 8, "#3f7fc0", "#2f5f8f");
sep(610, 25, 44);
stroke("M622,28V42M620,42H636", "#444"); svg.append("path").attr("d", "M626,31l6,4l-6,4z").attr("fill", "#3fb03f");
box(645, 24, 24, 22, "#f8f8f8", "#dcdcdc");
stroke("M651,28V42M649,42H665", "#444"); svg.append("path").attr("d", "M660,31l-5,4l5,4z").attr("fill", "#cc3a2a");
sep(672, 25, 44);
box(683, 27, 11, 14, "#ffffff", "#666"); plus(692, 39); caret(701, 34);
svg.append("circle").attr("cx", 725).attr("cy", 34).attr("r", 7.5).attr("fill", "#3f86c8").attr("stroke", "#1f5a96");
svg.append("circle").attr("cx", 725).attr("cy", 34).attr("r", 4.5).attr("fill", "#ffffff"); stroke("M725,31v3h3", "#1f5a96"); caret(737, 34);
box(756, 27, 14, 13, "#eaf2fb", "#6b8fb5"); stroke("M758,36l3,-3l3,2l4,-4", "#2e9e2e"); stroke("M756,31h14", "#cc8a3a"); caret(774, 34);

// toolbar row two
box(8, 50, 27, 23, "#f8f8f8", "#dcdcdc");
svg.append("path").attr("d", "M16,54L16,68L19.5,65L22,70L24,69L21.5,64L26,63.5Z").attr("fill", "#222");
stroke("M50,54V70M42,62H58", "#555");
sep(68, 52, 72);
stroke("M85,54V71", "#555"); stroke("M108,62H120", "#555"); stroke("M136,70L148,54", "#555");
stroke("M163,68l8,-12M167,70l8,-12M169,68l-6,-4M172,63l-6,-4", "#555");
stroke("M190,55h15M190,58h15M190,61h15", "#555").attr("stroke-dasharray", "1,1");
stroke("M191,70q2,-7 8,-7", "#666");
svg.append("text").attr("x", 200).attr("y", 71).attr("font-size", 7).attr("fill", "#444").text("F");
stroke("M219,55h15M219,58h15M219,61h15M219,64h15", "#555").attr("stroke-dasharray", "1,1");
svg.append("text").attr("x", 229).attr("y", 71).attr("font-size", 7).attr("fill", "#444").text("F");
svg.append("text").attr("x", 249).attr("y", 68).attr("font-size", 14).attr("fill", "#333").text("A");
box(276, 57, 12, 10, "#777", "#999");
box(304, 55, 12, 15, "#fff", "#777").attr("stroke-dasharray", "1,1");
svg.append("text").attr("x", 306).attr("y", 67).attr("font-size", 13).attr("fill", "#333").text("T");
svg.append("path").attr("d", "M333,58l3,-3l3,3l-3,3zM338,65l3,-3l3,3l-3,3z").attr("fill", "#444"); caret(349, 61);
sep(361, 50, 73);
box(484, 50, 24, 22, "#f8f8f8", "#dcdcdc");
var periodX = [383, 411, 440, 467, 495, 523, 551, 580, 607];
var periodW = [13, 13, 18, 18, 12, 13, 12, 13, 14];
svg.selectAll("text.period").data(periodNames).enter().append("text").attr("class", "period")
    .attr("x", function (d, i) { return periodX[i]; }).attr("y", 66).attr("text-anchor", "middle")
    .attr("font-size", 11.5).attr("fill", "#222")
    .attr("textLength", function (d, i) { return periodW[i]; }).attr("lengthAdjust", "spacingAndGlyphs")
    .text(function (d) { return d; });
sep(622, 50, 73);

// window controls, search and mailbox
box(1865.5, 2.5, 16, 15, "#f8f8f8", "#d8d8d8"); stroke("M1869,13.5h8", "#555", 2);
box(1884.5, 2.5, 16, 15, "#f8f8f8", "#d8d8d8"); box(1889.5, 6.5, 6, 5, "none", "#444"); box(1887.5, 8.5, 6, 5, "#f8f8f8", "#444");
box(1903.5, 2.5, 16, 15, "#f8f8f8", "#d8d8d8"); stroke("M1907.5,7l7,7M1914.5,7l-7,7", "#555", 1.8);
svg.append("circle").attr("cx", 1875).attr("cy", 33).attr("r", 4.5).attr("fill", "none").attr("stroke", "#2a5fb0").attr("stroke-width", 1.7);
stroke("M1871,37l-3.5,3.5", "#2a5fb0", 2.2);
svg.append("path").attr("d", "M1892,34h12v8h-7l-3,3v-3h-2z").attr("fill", "#e8e8e8").attr("stroke", "#bcbcbc");
svg.append("circle").attr("cx", 1906).attr("cy", 32).attr("r", 7.5).attr("fill", "#d42a1c");
svg.append("text").attr("x", 1906).attr("y", 36.5).attr("text-anchor", "middle").attr("font-size", 12).attr("fill", "#fff").text("1");

// tabs
svg.append("line").attr("x1", 0).attr("x2", 1920).attr("y1", 982.5).attr("y2", 982.5).attr("stroke", "#d0d0d0");
svg.append("line").attr("x1", 0).attr("x2", 1920).attr("y1", 984.5).attr("y2", 984.5).attr("stroke", "#111");
svg.append("rect").attr("x", 0).attr("y", 985).attr("width", 1920).attr("height", 20).attr("fill", "#eeeeee");
var tabX = [19, 110, 200, 287, 370, 453, 532];
var tabW = [69, 65, 62, 60, 62, 58, 64];
var tabSep = [99, 187, 275, 359, 443];
svg.selectAll("line.tabsep").data(tabSep).enter().append("line").attr("class", "tabsep")
    .attr("x1", function (d) { return d + 0.5; }).attr("x2", function (d) { return d + 0.5; })
    .attr("y1", 988).attr("y2", 1000).attr("stroke", "#9a9a9a");
svg.append("path").attr("d", "M523.5,985V1003.5H606.5V985").attr("fill", "#ffffff").attr("stroke", "#111");
svg.append("line").attr("x1", 524).attr("x2", 606).attr("y1", 984.5).attr("y2", 984.5).attr("stroke", "#ffffff");
svg.selectAll("text.tab").data(tabNames).enter().append("text").attr("class", "tab")
    .attr("x", function (d, i) { return tabX[i]; }).attr("y", 999)
    .attr("font-size", 13).attr("fill", function (d, i) { return i === 6 ? "#000" : "#555"; })
    .attr("textLength", function (d, i) { return tabW[i]; }).attr("lengthAdjust", "spacingAndGlyphs")
    .text(function (d) { return d; });
svg.append("path").attr("d", "M1891,990v8l-4,-4zM1910,990v8l4,-4z").attr("fill", "#aaa");

// watermark
svg.append("path").attr("d", "M1497,0L1793,0L1762,72Q1757,81 1745,81L1545,81Q1533,81 1528,72Z").attr("fill", "#f4f4f4");
stroke("M1559,15.5h6v12l7,7.5h12v7h-14l-5,5v2l4,4h15v5h-20l-6,-7v-7l5,-5l-4,-4z", "#2df0f5", 2.2);
fit(svg.append("text").attr("x", 1595).attr("y", 50).attr("font-size", 26).style("font-family", "Inter, sans-serif")
    .attr("fill", "#8d8d8d").text("TradingFinder"), 148);
</script>
</body>
</html>
